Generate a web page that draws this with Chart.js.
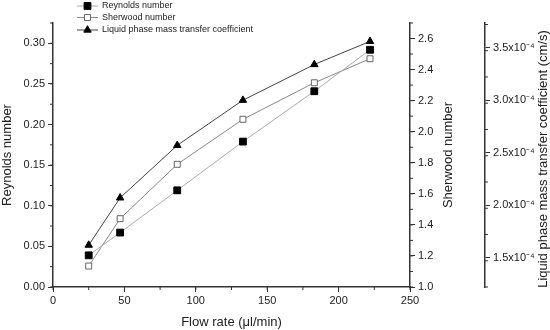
<!DOCTYPE html>
<html>
<head>
<meta charset="utf-8">
<script src="https://cdn.jsdelivr.net/npm/chart.js@4.4.0/dist/chart.umd.min.js"></script>
<style>
body { margin: 0; background: #fff; }
#graphic_space { width: 550px; height: 330px; }
</style>
</head>
<body>
<div id="graphic_space"><canvas id="graphic_chart" width="550" height="330"></canvas></div>
<script>
// dados
let flow_rate = [25, 47, 87, 133, 183, 222]
let reynolds = [0.039, 0.067, 0.119, 0.179, 0.241, 0.292]
let sherwood = [1.135, 1.44, 1.79, 2.08, 2.315, 2.47]
let mass_transfer = [1.62e-4, 2.07e-4, 2.57e-4, 3.0e-4, 3.34e-4, 3.56e-4]

let x_ticks = [0, 50, 100, 150, 200, 250]
let reynolds_ticks = [0, 0.05, 0.10, 0.15, 0.20, 0.25, 0.30]
let sherwood_ticks = [1.0, 1.2, 1.4, 1.6, 1.8, 2.0, 2.2, 2.4, 2.6]
let mass_ticks = [1.5e-4, 2.0e-4, 2.5e-4, 3.0e-4, 3.5e-4]
let mass_tick_labels = ["1.5x10\u207B\u2074", "2.0x10\u207B\u2074", "2.5x10\u207B\u2074", "3.0x10\u207B\u2074", "3.5x10\u207B\u2074"]

let series_names = ["Reynolds number", "Sherwood number", "Liquid phase mass transfer coefficient"]

let fonte = "'Liberation Sans', Arial, sans-serif"
let cor_eixo = "#333"

function pares(valores) {
    return flow_rate.map((x, i) => ({ x: x, y: valores[i] }))
}

function fixar_ticks(lista) {
    return function(scale) {
        scale.ticks = lista.map(v => ({ value: v }))
    }
}

// marcas menores (minor ticks) entre as principais
let minor_ticks = {
    id: "minor_ticks",
    afterDraw(chart) {
        let ctx = chart.ctx
        let passos = { x: 25, y: 0.025, y1: 0.1, y2: 0.25e-4 }
        ctx.save()
        ctx.strokeStyle = cor_eixo
        ctx.lineWidth = 1
        for (let id in passos) {
            let s = chart.scales[id]
            let passo = passos[id]
            for (let v = s.min; v <= s.max + 1e-12; v += passo) {
                let p = s.getPixelForValue(v)
                ctx.beginPath()
                if (id === "x") {
                    ctx.moveTo(p, s.top); ctx.lineTo(p, s.top + 3)
                } else if (id === "y") {
                    ctx.moveTo(s.right, p); ctx.lineTo(s.right - 3, p)
                } else {
                    ctx.moveTo(s.left, p); ctx.lineTo(s.left + 3, p)
                }
                ctx.stroke()
            }
        }
        ctx.restore()
    }
}

// titulos dos eixos da direita (lidos de baixo para cima)
let titulos_direita = {
    id: "titulos_direita",
    afterDraw(chart) {
        let ctx = chart.ctx
        let area = chart.chartArea
        let meio = (area.top + area.bottom) / 2
        ctx.save()
        ctx.fillStyle = "#222"
        ctx.font = "13px " + fonte
        ctx.textAlign = "center"
        ctx.textBaseline = "middle"
        let y1 = chart.scales.y1
        ctx.save()
        ctx.translate(y1.left + 38, meio)
        ctx.rotate(-Math.PI / 2)
        ctx.fillText("Sherwood number", 0, 0)
        ctx.restore()
        let y2 = chart.scales.y2
        ctx.save()
        ctx.translate(y2.left + 58, meio + 4)
        ctx.rotate(-Math.PI / 2)
        ctx.fillText("Liquid phase mass transfer coefficient (cm/s)", 0, 0)
        ctx.restore()
        ctx.restore()
    }
}

// legenda no estilo do Origin: linha - marcador - linha
let legenda = {
    id: "legenda",
    afterDraw(chart) {
        let ctx = chart.ctx
        let linhas_y = [6, 17.5, 30]
        ctx.save()
        ctx.font = "9px " + fonte
        ctx.textBaseline = "middle"
        chart.data.datasets.forEach((ds, i) => {
            let y = linhas_y[i]
            ctx.strokeStyle = ds.borderColor
            ctx.lineWidth = 1
            ctx.beginPath()
            ctx.moveTo(77, y); ctx.lineTo(98, y)
            ctx.stroke()
            ctx.fillStyle = ds.pointBackgroundColor
            ctx.strokeStyle = ds.pointBorderColor
            Chart.helpers.drawPoint(ctx, {
                pointStyle: ds.pointStyle,
                radius: ds.pointRadius,
                borderWidth: 1
            }, 87.5, y)
            ctx.fillStyle = "#222"
            ctx.fillText(ds.label, 102, y)
        })
        ctx.restore()
    }
}

const ctx = document.getElementById("graphic_chart").getContext("2d")
const graphic_chart = new Chart(ctx, {
    type: "line",
    data: {
        datasets: [
            {
                label: series_names[0], data: pares(reynolds), yAxisID: "y",
                borderColor: "#aaa", borderWidth: 1,
                pointStyle: "rect", pointRadius: 4.8,
                pointBackgroundColor: "#000", pointBorderColor: "#000", pointBorderWidth: 1
            },
            {
                label: series_names[1], data: pares(sherwood), yAxisID: "y1",
                borderColor: "#888", borderWidth: 1,
                pointStyle: "rect", pointRadius: 4.2,
                pointBackgroundColor: "#fff", pointBorderColor: "#666", pointBorderWidth: 1
            },
            {
                label: series_names[2], data: pares(mass_transfer), yAxisID: "y2",
                borderColor: "#444", borderWidth: 1,
                pointStyle: "triangle", pointRadius: 4.3,
                pointBackgroundColor: "#000", pointBorderColor: "#000", pointBorderWidth: 1
            }
        ]
    },
    options: {
        responsive: false,
        animation: false,
        layout: { padding: { top: 23, left: 0, right: 0, bottom: 0 } },
        plugins: { legend: { display: false }, tooltip: { enabled: false } },
        scales: {
            x: {
                type: "linear", min: 0, max: 250,
                afterBuildTicks: fixar_ticks(x_ticks),
                afterFit: s => { s.height = 43 },
                grid: { drawOnChartArea: false, tickLength: 5, tickColor: cor_eixo, tickWidth: 1 },
                border: { display: true, color: cor_eixo, width: 1.5 },
                ticks: { color: "#222", font: { family: fonte, size: 11 }, padding: 2, maxRotation: 0,
                    callback: v => String(v) },
                title: { display: true, text: "Flow rate (\u03BCl/min)", color: "#222",
                    font: { family: fonte, size: 13 }, padding: { top: 0, bottom: 0 } }
            },
            y: {
                type: "linear", position: "left", min: 0, max: 0.325,
                afterBuildTicks: fixar_ticks(reynolds_ticks),
                afterFit: s => { s.width = 53 },
                grid: { drawOnChartArea: false, tickLength: 5, tickColor: cor_eixo, tickWidth: 1 },
                border: { display: true, color: cor_eixo, width: 1.5 },
                ticks: { color: "#222", font: { family: fonte, size: 11 }, padding: 3,
                    callback: v => v.toFixed(2) },
                title: { display: true, text: "Reynolds number", color: "#222",
                    font: { family: fonte, size: 13 }, padding: { top: 0, bottom: 0 } }
            },
            y1: {
                type: "linear", position: "right", min: 1.0, max: 2.7,
                afterBuildTicks: fixar_ticks(sherwood_ticks),
                afterFit: s => { s.width = 75 },
                grid: { drawOnChartArea: false, tickLength: 5, tickColor: cor_eixo, tickWidth: 1 },
                border: { display: true, color: cor_eixo, width: 1.5 },
                ticks: { color: "#222", font: { family: fonte, size: 11 }, padding: 3,
                    callback: v => v.toFixed(1) }
            },
            y2: {
                type: "linear", position: "right", min: 1.221e-4, max: 3.735e-4,
                afterBuildTicks: fixar_ticks(mass_ticks),
                afterFit: s => { s.width = 65 },
                grid: { drawOnChartArea: false, tickLength: 5, tickColor: cor_eixo, tickWidth: 1 },
                border: { display: true, color: cor_eixo, width: 1.5 },
                ticks: { color: "#222", font: { family: fonte, size: 11 }, padding: 3,
                    callback: (v, i) => mass_tick_labels[mass_ticks.indexOf(v)] }
            }
        }
    },
    plugins: [minor_ticks, titulos_direita, legenda]
})
</script>
</body>
</html>
